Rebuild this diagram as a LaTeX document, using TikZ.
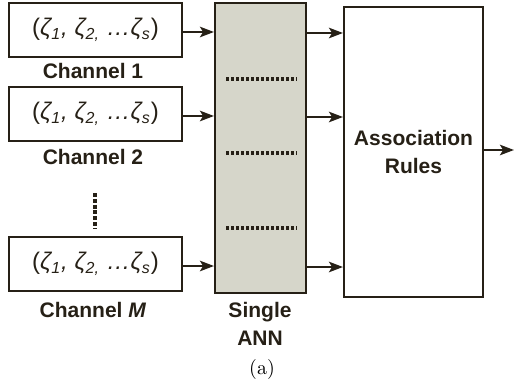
\documentclass[tikz,border=0pt]{standalone}
\usepackage{fontspec}
\setsansfont{Liberation Sans}
\usetikzlibrary{arrows.meta,calc,positioning}
\definecolor{ink}{RGB}{38,32,22}
\definecolor{annfill}{RGB}{214,214,202}
\newcommand{\zetavec}{(\textit{ζ\textsubscript{1}, ζ\textsubscript{2,} …ζ\textsubscript{s}})}

\begin{document}
\begin{tikzpicture}[x=.5pt,y=-.5pt,font=\sffamily,>={Stealth[length=7pt,width=5.2pt,inset=1.6pt]},
  chbox/.style={draw=ink,line width=1pt,text=ink,minimum width=86.5pt,minimum height=27pt,inner sep=0pt,font=\sffamily\fontsize{12}{14}\selectfont},
  tallbox/.style={draw=ink,line width=1pt,minimum height=145pt,inner sep=0pt},
  lbl/.style={text=ink,font=\sffamily\bfseries\fontsize{10.5}{14}\selectfont,align=center},
  arr/.style={->,ink,line width=1.4pt}]
 \useasboundingbox (0,0) rectangle (514,385);
 % channel inputs
 \node[chbox] (ch1) at (95.5,30) {\zetavec};
 \node[chbox] (ch2) at (95.5,114) {\zetavec};
 \node[chbox] (chM) at (95.5,264) {\zetavec};
 \node[lbl] (lbl1) at (93,71) {Channel 1};
 \node[lbl] (lbl2) at (93,157) {Channel 2};
 \node[lbl] (lblM) at (93,310) {Channel \textit{M}};
 \draw[ink,line width=2.3pt,dash pattern=on 2pt off .9pt] (95,193)--(95,228);
 % the network and the rules
 \node[tallbox,fill=annfill,minimum width=45.5pt] (ann) at (260.5,148) {};
 \node[tallbox,fill=white,minimum width=69.5pt,lbl] (rules) at (413.5,152) {Association\\Rules};
 \node[lbl] (annlbl) at (260,324) {Single\\ANN};
 \foreach \y in {79,153,228}{
  \draw[ink,line width=1.6pt,dash pattern=on 1.6pt off .9pt] (226,\y)--(297,\y);
 }
 \foreach \c in {ch1,ch2,chM}{
  \draw[arr] ($(\c.east)+(0,2)$) -- ($(\c.east -| ann.west)+(0,2)$);
  \draw[arr] ($(\c.east -| ann.east)+(0,3)$) -- ($(\c.east -| rules.west)+(0,3)$);
 }
 \coordinate (out) at (514,150);
 \draw[arr] (rules.east |- out) -- (out);
 \node[font=\rmfamily\fontsize{10}{12}\selectfont] (cap) at (262,369) {(a)};
\end{tikzpicture}
\end{document}
